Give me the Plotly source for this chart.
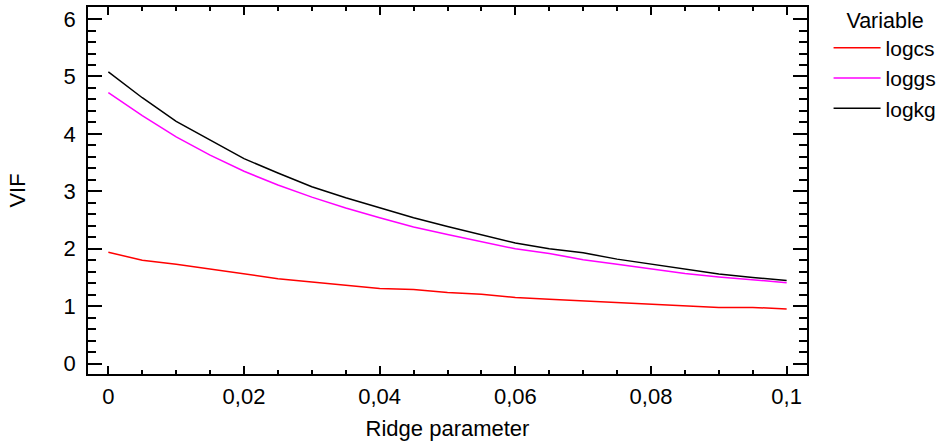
import plotly.graph_objects as go

ridge = [0, 0.005, 0.01, 0.015, 0.02, 0.025, 0.03, 0.035, 0.04, 0.045, 0.05,
         0.055, 0.06, 0.065, 0.07, 0.075, 0.08, 0.085, 0.09, 0.095, 0.1]
logcs = [1.94, 1.80, 1.73, 1.65, 1.56, 1.48, 1.42, 1.37, 1.31, 1.29, 1.24,
         1.21, 1.15, 1.12, 1.09, 1.07, 1.04, 1.01, 0.98, 0.98, 0.95]
loggs = [4.72, 4.32, 3.95, 3.63, 3.35, 3.11, 2.90, 2.71, 2.54, 2.38, 2.25,
         2.13, 2.00, 1.92, 1.81, 1.73, 1.65, 1.57, 1.51, 1.46, 1.41]
logkg = [5.08, 4.63, 4.22, 3.90, 3.57, 3.32, 3.08, 2.89, 2.71, 2.54, 2.39,
         2.24, 2.10, 2.00, 1.93, 1.82, 1.73, 1.64, 1.56, 1.50, 1.45]
x_ticks = [0, 0.02, 0.04, 0.06, 0.08, 0.1]
x_ticktext = ["0", "0,02", "0,04", "0,06", "0,08", "0,1"]
y_ticks = [0, 1, 2, 3, 4, 5, 6]

series = [("logcs", logcs, "#ff0000"), ("loggs", loggs, "#ff00ff"), ("logkg", logkg, "#000000")]

FONT = "Liberation Sans, Arial, sans-serif"
FS = 22

fig = go.Figure()
for name, vals, col in series:
    fig.add_trace(go.Scatter(x=ridge, y=vals, mode="lines", name=name,
                             line=dict(color=col, width=1.5)))

fig.update_layout(
    width=947, height=445,
    margin=dict(l=88, r=140, t=7, b=71, autoexpand=False),
    paper_bgcolor="white", plot_bgcolor="white",
    separators=", ",
    font=dict(family=FONT, size=FS, color="black"),
    showlegend=True,
    legend=dict(
        x=1.03, y=1.02, xanchor="left", yanchor="top",
        font=dict(size=21), itemwidth=47,
        title=dict(text="Variable", side="top center", font=dict(size=21.5)),
        bgcolor="rgba(0,0,0,0)", tracegroupgap=0,
    ),
    xaxis=dict(
        range=[-0.003, 0.103], tickvals=x_ticks, ticktext=x_ticktext,
        showgrid=False, zeroline=False, showline=True, linecolor="black", linewidth=1.5,
        mirror="ticks", ticks="inside", ticklen=8, tickwidth=1.5, tickcolor="black",
        minor=dict(dtick=0.005, ticks="inside", ticklen=4, tickwidth=1.5, tickcolor="black", showgrid=False),
        title=dict(text="Ridge parameter", font=dict(size=FS), standoff=12),
        ticklabelstandoff=2,
    ),
    yaxis=dict(
        range=[-0.18, 6.21], tickvals=y_ticks,
        showgrid=False, zeroline=False, showline=True, linecolor="black", linewidth=1.5,
        mirror="ticks", ticks="inside", ticklen=14, tickwidth=1.5, tickcolor="black",
        minor=dict(dtick=0.2, ticks="inside", ticklen=8, tickwidth=1.5, tickcolor="black", showgrid=False),
        title=dict(text="VIF", font=dict(size=FS), standoff=32),
        ticklabelstandoff=6,
    ),
)

fig.write_html("out.html", config={"displayModeBar": False},
               post_script="document.body.style.margin='0';")
